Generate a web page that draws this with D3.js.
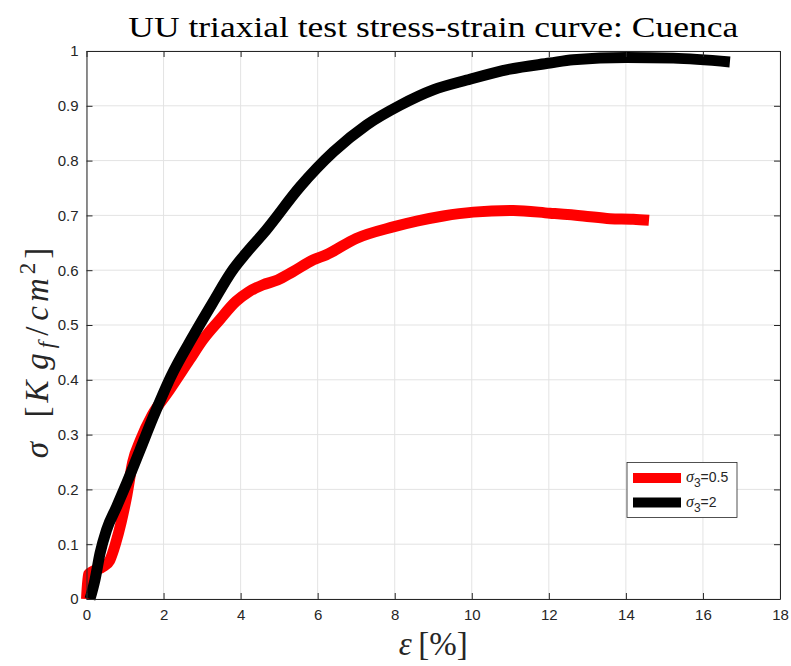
<!DOCTYPE html>
<html>
<head>
<meta charset="utf-8">
<script src="https://cdn.jsdelivr.net/npm/d3@7"></script>
<style>
    body { margin: 0; background: #fff; }
    svg { display: block; }
</style>
</head>
<body>
<script>
// strain [%] / stress [Kg_f/cm^2]
const red_strain = [0, 0.05, 0.15, 0.45, 0.6, 0.75, 0.9, 1.05, 1.2, 1.4, 1.7, 2.15, 2.67, 3.02, 3.45, 3.88, 4.2, 4.57, 4.96, 5.35, 5.89, 6.22, 7.0, 7.96, 8.6, 9.26, 10.04, 11.08, 12.03, 12.89, 13.59, 14.19, 14.6];
const red_stress = [0, 0.045, 0.05, 0.06, 0.07, 0.1, 0.14, 0.19, 0.25, 0.29, 0.335, 0.381, 0.436, 0.473, 0.509, 0.543, 0.56, 0.573, 0.582, 0.597, 0.619, 0.628, 0.658, 0.679, 0.69, 0.699, 0.706, 0.709, 0.704, 0.699, 0.694, 0.693, 0.691];

const black_strain = [0.09, 0.22, 0.35, 0.52, 0.78, 1.04, 1.39, 1.72, 2.19, 2.76, 3.27, 3.79, 4.14, 4.66, 5.54, 6.41, 7.27, 8.14, 9.0, 9.87, 10.99, 12.03, 12.63, 14.02, 15.23, 16.7];
const black_stress = [0, 0.035, 0.083, 0.126, 0.168, 0.211, 0.272, 0.33, 0.406, 0.479, 0.54, 0.6, 0.631, 0.673, 0.752, 0.816, 0.865, 0.901, 0.929, 0.947, 0.967, 0.978, 0.984, 0.988, 0.987, 0.98];

const x_ticks = [0, 2, 4, 6, 8, 10, 12, 14, 16, 18];
const y_ticks = [0, 0.1, 0.2, 0.3, 0.4, 0.5, 0.6, 0.7, 0.8, 0.9, 1];
const series_names = ["0.5", "2"];
const series_colours = ["#ff0000", "#000000"];

const width = 791;
const height = 666;
const margin = { top: 51, right: 11, bottom: 67, left: 86.5 };
const axis_colour = "#262626";
const tex_font = "'Liberation Serif', 'DejaVu Serif', serif";
const sans_font = "'Liberation Sans', Arial, sans-serif";

const svg = d3.select("body")
    .append("svg")
    .attr("width", width)
    .attr("height", height);

const x = d3.scaleLinear()
    .domain([0, 18])
    .range([margin.left, width - margin.right]);
const y = d3.scaleLinear()
    .domain([0, 1])
    .range([height - margin.bottom, margin.top]);

// grid
const grid = svg.append("g").attr("class", "grid");
grid.selectAll("line.gx")
    .data(x_ticks)
    .join(enter => enter.append("line").attr("class", "gx"))
    .attr("x1", d => x(d)).attr("x2", d => x(d))
    .attr("y1", y(0)).attr("y2", y(1));
grid.selectAll("line.gy")
    .data(y_ticks)
    .join(enter => enter.append("line").attr("class", "gy"))
    .attr("x1", x(0)).attr("x2", x(18))
    .attr("y1", d => y(d)).attr("y2", d => y(d));
grid.selectAll("line")
    .attr("stroke", "#e3e3e3")
    .attr("stroke-width", 1);

// curves
const line = d3.line()
    .x(d => x(d[0]))
    .y(d => y(d[1]))
    .curve(d3.curveMonotoneX);

const series = [
    d3.zip(red_strain, red_stress),
    d3.zip(black_strain, black_stress)
];

svg.append("g")
    .attr("id", "data")
    .selectAll("path")
    .data(series)
    .join("path")
    .attr("d", line)
    .attr("fill", "none")
    .attr("stroke", (d, i) => series_colours[i])
    .attr("stroke-width", 11)
    .attr("stroke-linejoin", "round")
    .attr("stroke-linecap", "butt");

// axes, ticks inward on all four sides
const tick_len = 6;
const bottom_axis = d3.axisBottom(x).tickValues(x_ticks).tickSizeInner(-tick_len).tickSizeOuter(0).tickPadding(10);
const top_axis = d3.axisTop(x).tickValues(x_ticks).tickSizeInner(-tick_len).tickSizeOuter(0).tickFormat("");
const left_axis = d3.axisLeft(y).tickValues(y_ticks).tickSizeInner(-tick_len).tickSizeOuter(0).tickPadding(8).tickFormat(d3.format("~g"));
const right_axis = d3.axisRight(y).tickValues(y_ticks).tickSizeInner(-tick_len).tickSizeOuter(0).tickFormat("");

const axes = [
    [bottom_axis, `translate(0,${y(0)})`],
    [top_axis, `translate(0,${y(1)})`],
    [left_axis, `translate(${x(0)},0)`],
    [right_axis, `translate(${x(18)},0)`]
];
axes.forEach(([ax, tr]) => {
    const g = svg.append("g")
        .attr("transform", tr)
        .call(ax);
    g.select(".domain").attr("stroke", axis_colour).attr("stroke-width", 1);
    g.selectAll(".tick line").attr("stroke", axis_colour);
    g.selectAll(".tick text")
        .attr("fill", axis_colour)
        .style("font-family", sans_font)
        .style("font-size", "15px");
});

// title
svg.append("text")
    .attr("x", (x(0) + x(18)) / 2)
    .attr("y", 37)
    .attr("text-anchor", "middle")
    .attr("textLength", 610)
    .attr("lengthAdjust", "spacingAndGlyphs")
    .style("font-family", tex_font)
    .style("font-size", "30px")
    .attr("fill", "#000")
    .text("UU triaxial test stress-strain curve: Cuenca");

// x label: ε [%]
const xlab = svg.append("text")
    .attr("x", (x(0) + x(18)) / 2)
    .attr("y", 655)
    .attr("text-anchor", "middle")
    .style("font-family", tex_font)
    .style("font-size", "33px")
    .attr("fill", axis_colour);
xlab.append("tspan").style("font-style", "italic").text("ε");
xlab.append("tspan").text("\u2009[%]");

// y label: σ [Kg_f/cm^2]
const ylab = svg.append("text")
    .attr("transform", `translate(48,351) rotate(-90)`)
    .attr("text-anchor", "middle")
    .style("font-family", tex_font)
    .style("font-size", "33px")
    .style("letter-spacing", "4px")
    .attr("fill", axis_colour);
ylab.append("tspan").style("font-style", "italic").text("σ");
ylab.append("tspan").text("\u2002[");
ylab.append("tspan").style("font-style", "italic").text("K\u200ag");
ylab.append("tspan").style("font-style", "italic").style("font-size", "23px").attr("dy", 6).attr("dx", 1).text("f");
ylab.append("tspan").attr("dy", -6).attr("dx", 2).text("/");
ylab.append("tspan").style("font-style", "italic").attr("dx", 2).text("cm");
ylab.append("tspan").style("font-size", "23px").attr("dy", -13).text("2");
ylab.append("tspan").attr("dy", 13).text("]");

// legend
const legend = svg.append("g").attr("id", "legend");
legend.append("rect")
    .attr("x", 627)
    .attr("y", 462.5)
    .attr("width", 110)
    .attr("height", 55)
    .attr("fill", "#fff")
    .attr("stroke", axis_colour)
    .attr("stroke-width", 0.8);

const legend_rows = legend.selectAll("g.row")
    .data(series_names)
    .join("g")
    .attr("class", "row")
    .attr("transform", (d, i) => `translate(0,${478 + i * 24.5})`);
legend_rows.append("line")
    .attr("x1", 633).attr("x2", 681)
    .attr("y1", 0).attr("y2", 0)
    .attr("stroke", (d, i) => series_colours[i])
    .attr("stroke-width", 10);
const legend_text = legend_rows.append("text")
    .attr("x", 686)
    .attr("y", 4)
    .style("font-family", sans_font)
    .style("font-size", "14px")
    .attr("fill", axis_colour);
legend_text.append("tspan").style("font-family", tex_font).style("font-style", "italic").style("font-size", "16px").text("σ");
legend_text.append("tspan").attr("dy", 5).style("font-size", "12px").text("3");
legend_text.append("tspan").attr("dy", -5).text(d => `=${d}`);
</script>
</body>
</html>
